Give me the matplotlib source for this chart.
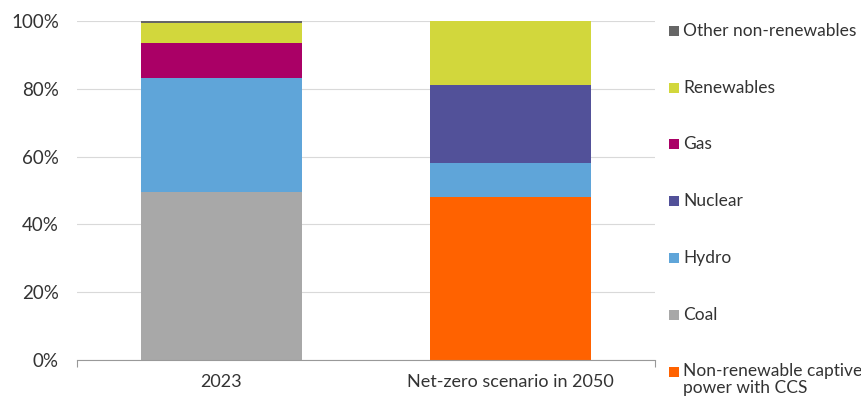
import matplotlib
matplotlib.use("Agg")
import matplotlib.pyplot as plt
from matplotlib.patches import Rectangle

categories = ["2023", "Net-zero scenario in 2050"]
series_names = ["Non-renewable captive\npower with CCS", "Coal", "Hydro", "Nuclear", "Gas",
                "Renewables", "Other non-renewables"]
ccs = [0, 48]
coal = [49.7, 0]
hydro = [33.5, 10]
nuclear = [0, 23]
gas = [10.3, 0]
renewables = [6, 19]
other = [0.5, 0]
values = [ccs, coal, hydro, nuclear, gas, renewables, other]
colors = ["#FF6200", "#A8A8A8", "#5FA5D9", "#525199", "#AA0066", "#D2D73C", "#666666"]
yticks = [0, 20, 40, 60, 80, 100]
ytick_labels = ["0%", "20%", "40%", "60%", "80%", "100%"]

plt.rcParams['font.family'] = ['Lato', 'DejaVu Sans']
fig = plt.figure(figsize=(8.61, 4.01), dpi=100)
ax = fig.add_axes([77/861, 1-360/401, (655-77)/861, (360-21)/401])

x = list(range(len(categories)))
bottom = [0]*len(categories)
for name, vals, c in zip(series_names, values, colors):
    ax.bar(x, vals, width=0.56, bottom=bottom, color=c, label=name, zorder=3)
    bottom = [b+v for b, v in zip(bottom, vals)]

ax.set_xlim(-0.5, 1.5)
ax.set_ylim(0, 100)
ax.set_yticks(yticks)
ax.set_yticklabels(ytick_labels)
ax.set_xticks(x)
ax.set_xticklabels(categories)
ax.set_xticks([-0.5, 1.5], minor=True)
ax.tick_params(axis='x', which='major', length=0, pad=10, labelsize=13, labelcolor="#333333")
ax.tick_params(axis='x', which='minor', length=5, color="#999999", width=0.8, direction='out')
ax.tick_params(axis='y', length=0, pad=13, labelsize=13.5, labelcolor="#333333")
ax.grid(axis='y', color="#d9d9d9", linewidth=0.8, zorder=0)
for s in ["top", "right", "left"]:
    ax.spines[s].set_visible(False)
ax.spines["bottom"].set_color("#999999")
ax.spines["bottom"].set_linewidth(0.8)
ax.spines["bottom"].set_zorder(4)

# legend, drawn manually top-to-bottom
ys = [31, 88, 144, 201, 258, 315, 372]
for i, (name, c) in enumerate(zip(series_names[::-1], colors[::-1])):
    yc = ys[i]
    fig.add_artist(Rectangle((669/861, 1-(yc+5)/401), 10/861, 10/401, transform=fig.transFigure,
                             facecolor=c, edgecolor='none'))
    if '\n' in name:
        fig.text(683/861, 1-(yc-9)/401, name, ha='left', va='top',
                 fontsize=12.5, color="#333333", linespacing=1.1)
    else:
        fig.text(683/861, 1-yc/401, name, ha='left', va='center',
                 fontsize=12.5, color="#333333")

fig.savefig("out.png", dpi=100)
